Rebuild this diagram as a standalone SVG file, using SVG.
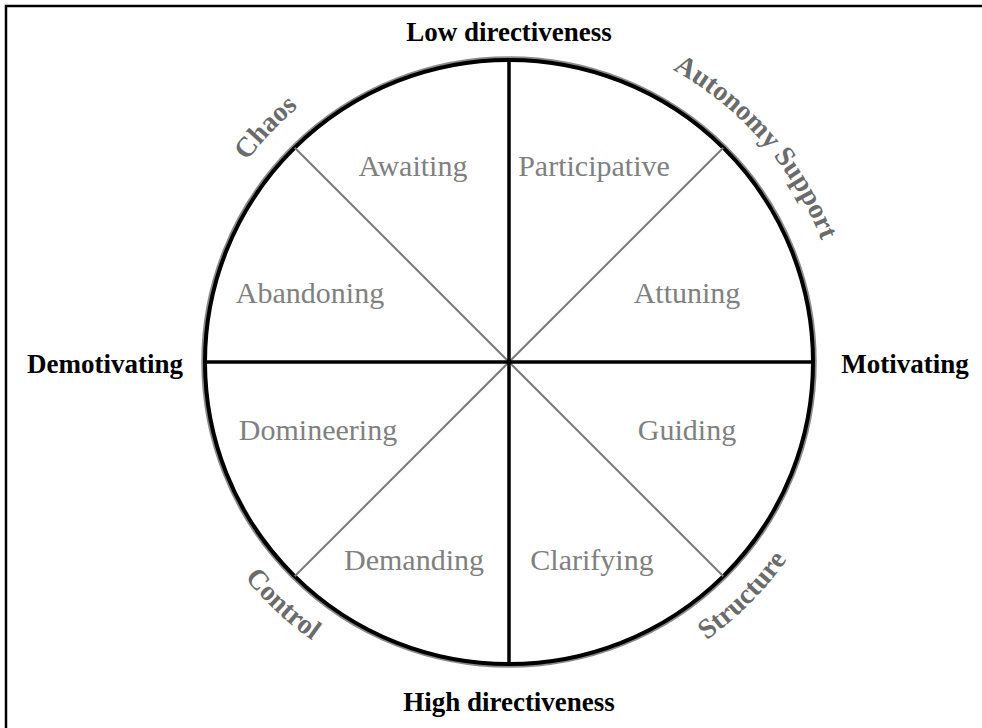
<svg xmlns="http://www.w3.org/2000/svg" width="982" height="728" viewBox="0 0 982 728">
  <style>
    .axis { font-family: "Liberation Serif", "Times New Roman", serif; font-weight: bold; font-size: 27px; fill: #000; text-anchor: middle; }
    .arc { font-family: "Liberation Serif", "Times New Roman", serif; font-weight: bold; font-size: 28px; fill: #6b6b6b; }
    .style { font-family: "Liberation Serif", "Times New Roman", serif; font-size: 30px; fill: #808080; text-anchor: middle; }
    .main { stroke: #000; stroke-width: 3.5; fill: none; }
    .diag { stroke: #7a7a7a; stroke-width: 2; fill: none; }
  </style>
  <defs>
    <!-- baseline arcs for the rim labels, centred on (509,362) -->
    <path id="arcChaos" d="M191.8,454.5 A332,332 0 0 1 589.3,39.8"/>
    <path id="arcAutonomy" d="M445.1,33.2 A335,335 0 0 1 826.0,471.1"/>
    <path id="arcStructure" d="M420.7,691.4 A341,341 0 0 0 838.4,273.7"/>
    <path id="arcControl" d="M176.7,285.3 A341,341 0 0 0 608.7,688.1"/>
  </defs>

  <rect width="982" height="728" fill="#fff"/>
  <!-- frame -->
  <path d="M6,728 V6 H982" fill="none" stroke="#000" stroke-width="2.5"/>

  <!-- wheel -->
  <g id="wheel">
    <ellipse cx="509" cy="362" rx="306.5" ry="304.5" fill="none" stroke="#8a8a8a" stroke-width="2.5"/>
    <ellipse cx="509" cy="362" rx="304" ry="302" fill="#fff" stroke="#000" stroke-width="4"/>
  </g>

  <g id="connectors">
    <line class="diag" x1="294.7" y1="147.7" x2="723.3" y2="576.3"/>
    <line class="diag" x1="723.3" y1="147.7" x2="294.7" y2="576.3"/>
    <line class="main" x1="509" y1="60" x2="509" y2="664"/>
    <line class="main" x1="205" y1="362" x2="813" y2="362"/>
  </g>

  <!-- axis poles -->
  <g id="low-directiveness"><text class="axis" x="509" y="41">Low directiveness</text></g>
  <g id="high-directiveness"><text class="axis" x="509" y="711">High directiveness</text></g>
  <g id="demotivating"><text class="axis" x="105" y="373">Demotivating</text></g>
  <g id="motivating"><text class="axis" x="905" y="373">Motivating</text></g>

  <!-- quadrant styles along the rim -->
  <g id="chaos"><text class="arc"><textPath href="#arcChaos" startOffset="50%" text-anchor="middle">Chaos</textPath></text></g>
  <g id="autonomy-support"><text class="arc"><textPath href="#arcAutonomy" startOffset="50%" text-anchor="middle">Autonomy Support</textPath></text></g>
  <g id="structure"><text class="arc"><textPath href="#arcStructure" startOffset="50%" text-anchor="middle">Structure</textPath></text></g>
  <g id="control"><text class="arc"><textPath href="#arcControl" startOffset="50%" text-anchor="middle">Control</textPath></text></g>

  <!-- octant styles -->
  <g id="awaiting"><text class="style" x="413" y="176">Awaiting</text></g>
  <g id="participative"><text class="style" x="594" y="176">Participative</text></g>
  <g id="abandoning"><text class="style" x="310" y="303">Abandoning</text></g>
  <g id="attuning"><text class="style" x="687" y="303">Attuning</text></g>
  <g id="domineering"><text class="style" x="318" y="440">Domineering</text></g>
  <g id="guiding"><text class="style" x="687" y="440">Guiding</text></g>
  <g id="demanding"><text class="style" x="414" y="570">Demanding</text></g>
  <g id="clarifying"><text class="style" x="592" y="570">Clarifying</text></g>
</svg>
